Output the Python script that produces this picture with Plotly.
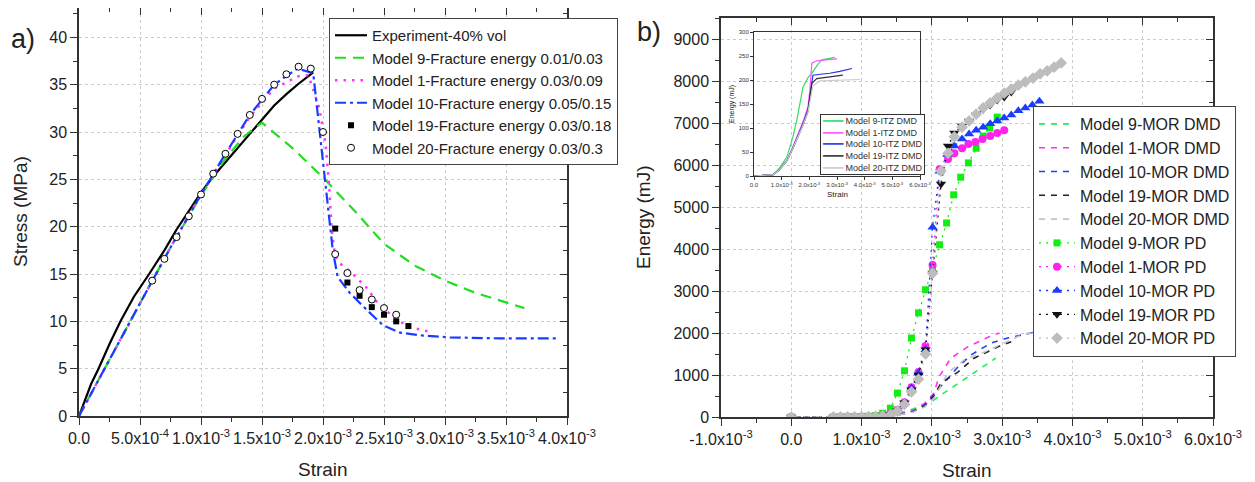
import plotly.graph_objects as go

W, H = 1255, 482          # browser window
OFF = 8                   # default page (body) margin
FW, FH = W - OFF, H - OFF  # figure size
FONT = "Liberation Sans, Arial, sans-serif"
MILLI = 1e-3

# ================= Panel a) : Stress vs Strain =================
# strain values in units of 1e-3
exp_strain = [0, 0.05, 0.1, 0.16, 0.25, 0.34, 0.45, 0.575, 0.7, 0.8, 0.9, 1.0, 1.1, 1.2, 1.3, 1.4, 1.5, 1.6, 1.7, 1.8, 1.92]
exp_stress = [0, 1.8, 3.4, 5.0, 7.6, 10.0, 12.6, 15.0, 17.5, 19.7, 21.7, 23.6, 25.3, 26.8, 28.3, 29.9, 31.4, 32.8, 34.0, 35.1, 36.3]

m9_strain = [0, 0.25, 0.5, 0.75, 1.0, 1.2, 1.35, 1.5, 1.75, 2.0, 2.25, 2.5, 2.75, 3.0, 3.25, 3.5, 3.65]
m9_stress = [0, 6.0, 11.9, 17.8, 23.3, 27.2, 29.5, 31.0, 28.3, 25.2, 21.8, 18.2, 15.9, 14.3, 13.0, 12.0, 11.4]

m1_strain = [0, 0.25, 0.5, 0.75, 1.0, 1.2, 1.4, 1.6, 1.8, 1.88, 1.97, 2.02, 2.05, 2.07, 2.1, 2.15, 2.23, 2.36, 2.45, 2.6, 2.71, 2.87]
m1_stress = [0, 6.0, 11.9, 17.8, 23.4, 27.6, 31.6, 34.6, 35.9, 36.0, 32.5, 28.8, 24.5, 19.8, 16.9, 16.0, 15.2, 13.5, 11.9, 10.2, 9.4, 8.9]

m10_strain = [0, 0.25, 0.5, 0.75, 1.0, 1.2, 1.4, 1.6, 1.79, 1.92, 1.99, 2.04, 2.08, 2.12, 2.22, 2.36, 2.49, 2.63, 2.82, 3.04, 3.45, 3.93]
m10_stress = [0, 6.0, 11.9, 17.8, 23.4, 27.7, 31.8, 35.0, 36.7, 36.2, 28.0, 21.5, 17.5, 14.7, 13.0, 11.2, 9.6, 8.8, 8.5, 8.3, 8.2, 8.2]

m19_strain = [2.1, 2.2, 2.3, 2.4, 2.5, 2.6, 2.7]
m19_stress = [19.8, 14.1, 12.7, 11.5, 10.7, 10.0, 9.5]

m20_strain = [0.6, 0.7, 0.8, 0.9, 1.0, 1.1, 1.2, 1.3, 1.4, 1.5, 1.6, 1.7, 1.8, 1.9, 2.0, 2.1, 2.2, 2.3, 2.4, 2.5, 2.6]
m20_stress = [14.3, 16.6, 18.9, 21.1, 23.4, 25.6, 27.7, 29.8, 31.8, 33.5, 35.0, 36.1, 36.9, 36.7, 30.0, 17.1, 15.1, 13.3, 12.3, 11.4, 10.7]

a_names = ["Experiment-40% vol",
           "Model 9-Fracture energy 0.01/0.03",
           "Model 1-Fracture energy 0.03/0.09",
           "Model 10-Fracture energy 0.05/0.15",
           "Model 19-Fracture energy 0.03/0.18",
           "Model 20-Fracture energy 0.03/0.3"]

a_xtick_vals = [0, 0.5, 1.0, 1.5, 2.0, 2.5, 3.0, 3.5, 4.0]
a_xtick_text = ["0.0", "5.0x10<sup>-4</sup>", "1.0x10<sup>-3</sup>", "1.5x10<sup>-3</sup>",
                "2.0x10<sup>-3</sup>", "2.5x10<sup>-3</sup>", "3.0x10<sup>-3</sup>",
                "3.5x10<sup>-3</sup>", "4.0x10<sup>-3</sup>"]
a_ytick_vals = [0, 5, 10, 15, 20, 25, 30, 35, 40]

# ================= Panel b) : Energy vs Strain =================
low_strain = [0, 0.6, 0.7, 0.8, 0.9, 1.0, 1.1, 1.2, 1.3]

pd9_strain = low_strain + [1.41, 1.51, 1.61, 1.71, 1.81, 1.91, 2.01, 2.11, 2.21, 2.31, 2.41, 2.52, 2.63, 2.73, 2.82, 2.93]
pd9_energy = [0, 2, 3, 5, 8, 12, 18, 35, 90, 210, 570, 1100, 1880, 2480, 3030, 3550, 4100, 4620, 5290, 5710, 6050, 6400, 6690, 6880, 7140]

pd1_strain = low_strain + [1.41, 1.51, 1.61, 1.71, 1.81, 1.91, 2.01, 2.11, 2.23, 2.32, 2.43, 2.52, 2.62, 2.72, 2.83, 2.93, 3.03]
pd1_energy = [0, 1, 2, 3, 5, 8, 12, 18, 30, 80, 170, 350, 710, 1070, 1690, 3620, 5900, 6140, 6280, 6400, 6500, 6550, 6620, 6690, 6760, 6830]

pd10_strain = low_strain + [1.41, 1.51, 1.61, 1.71, 1.81, 1.91, 2.01, 2.11, 2.22, 2.32, 2.43, 2.53, 2.63, 2.73, 2.83, 2.93, 3.03, 3.13, 3.23, 3.33, 3.43, 3.53]
pd10_energy = [0, 1, 2, 3, 5, 8, 12, 18, 30, 70, 160, 340, 690, 1050, 1600, 4520, 5850, 6250, 6450, 6620, 6740, 6830, 6900, 6980, 7050, 7120, 7190, 7290, 7360, 7430, 7520]

pd19_strain = low_strain + [1.41, 1.51, 1.61, 1.71, 1.81, 1.91, 2.01, 2.13, 2.23, 2.32, 2.43, 2.53, 2.63, 2.73, 2.83, 2.93, 3.03, 3.13]
pd19_energy = [0, 1, 2, 3, 5, 8, 12, 18, 28, 60, 150, 340, 650, 1000, 1600, 3430, 5550, 6450, 6760, 6930, 7050, 7190, 7330, 7430, 7550, 7620, 7740]

pd20_strain = low_strain + [1.41, 1.51, 1.61, 1.71, 1.81, 1.91, 2.01, 2.13, 2.23, 2.32, 2.43, 2.53, 2.63, 2.73, 2.83, 2.93, 3.03, 3.13, 3.23, 3.33, 3.44, 3.54, 3.64, 3.74, 3.84]
pd20_energy = [0, 1, 2, 3, 5, 8, 12, 18, 26, 50, 140, 300, 600, 900, 1500, 3420, 5860, 6280, 6670, 6900, 7050, 7210, 7360, 7480, 7600, 7710, 7810, 7900, 7980, 8070, 8170, 8240, 8330, 8430]

dmd9_strain = [0, 0.5, 1.0, 1.3, 1.56, 1.75, 1.99, 2.09, 2.25, 2.41, 2.55, 2.7, 2.91]
dmd9_energy = [0, 0, 5, 20, 95, 200, 360, 480, 660, 830, 1000, 1160, 1400]

dmd1_strain = [0, 0.5, 1.0, 1.3, 1.5, 1.74, 1.9, 2.03, 2.1, 2.27, 2.51, 2.8, 2.96]
dmd1_energy = [0, 0, 5, 15, 50, 160, 330, 570, 950, 1400, 1670, 1900, 2000]

dmd10_strain = [0, 0.5, 1.0, 1.3, 1.5, 1.74, 1.9, 2.03, 2.16, 2.37, 2.56, 2.84, 3.08, 3.46]
dmd10_energy = [0, 0, 5, 15, 45, 140, 290, 540, 810, 1190, 1480, 1760, 1880, 2020]

dmd19_strain = [0, 0.5, 1.0, 1.3, 1.5, 1.74, 1.9, 2.03, 2.13, 2.37, 2.6, 2.94, 3.13]
dmd19_energy = [0, 0, 5, 15, 40, 130, 260, 500, 810, 1070, 1400, 1670, 1790]

dmd20_strain = [0, 0.5, 1.0, 1.3, 1.5, 1.74, 1.9, 2.03, 2.23, 2.46, 2.75, 3.03, 3.27, 3.55, 3.8]
dmd20_energy = [0, 0, 5, 15, 40, 120, 240, 450, 1050, 1360, 1550, 1760, 1950, 2060, 2120]

b_dmd_names = ["Model 9-MOR DMD", "Model 1-MOR DMD", "Model 10-MOR DMD", "Model 19-MOR DMD", "Model 20-MOR DMD"]
b_pd_names = ["Model 9-MOR PD", "Model 1-MOR PD", "Model 10-MOR PD", "Model 19-MOR PD", "Model 20-MOR PD"]

b_xtick_vals = [-1, 0, 1, 2, 3, 4, 5, 6]
b_xtick_text = ["-1.0x10<sup>-3</sup>", "0.0", "1.0x10<sup>-3</sup>", "2.0x10<sup>-3</sup>",
                "3.0x10<sup>-3</sup>", "4.0x10<sup>-3</sup>", "5.0x10<sup>-3</sup>", "6.0x10<sup>-3</sup>"]
b_ytick_vals = [0, 1000, 2000, 3000, 4000, 5000, 6000, 7000, 8000, 9000]

# ================= Inset : ITZ DMD =================
itz9_strain = [0, 0.69, 0.9, 1.19, 1.4, 1.55, 1.77, 1.95, 2.09, 2.3, 2.45, 2.7, 2.92]
itz9_energy = [0, 3, 15, 40, 80, 117, 185, 205, 214, 232, 242, 245, 247]
itz1_strain = [0, 0.69, 0.9, 1.19, 1.4, 1.66, 1.8, 1.95, 2.02, 2.09, 2.27, 2.6, 3.0]
itz1_energy = [0, 3, 12, 33, 60, 96, 118, 144, 180, 235, 240, 242, 244]
itz10_strain = [0, 0.69, 0.9, 1.19, 1.4, 1.66, 1.8, 1.95, 2.05, 2.13, 2.4, 2.74, 3.1, 3.54]
itz10_energy = [0, 3, 12, 32, 58, 92, 113, 138, 175, 210, 212, 214, 218, 224]
itz19_strain = [0, 0.69, 0.9, 1.19, 1.4, 1.66, 1.8, 1.95, 2.05, 2.09, 2.27, 2.7, 3.21]
itz19_energy = [0, 3, 12, 32, 57, 90, 110, 134, 175, 193, 203, 206, 210]
itz20_strain = [0, 0.69, 0.9, 1.19, 1.4, 1.66, 1.8, 1.95, 2.05, 2.13, 2.38, 3.0, 3.83]
itz20_energy = [0, 3, 12, 32, 57, 90, 110, 133, 165, 188, 198, 199, 201]
itz_names = ["Model 9-ITZ DMD", "Model 1-ITZ DMD", "Model 10-ITZ DMD", "Model 19-ITZ DMD", "Model 20-ITZ DMD"]
inset_xtick_vals = [0, 1, 2, 3, 4, 5, 6]
inset_xtick_text = ["0.0", "1.0x10<sup>-3</sup>", "2.0x10<sup>-3</sup>", "3.0x10<sup>-3</sup>",
                    "4.0x10<sup>-3</sup>", "5.0x10<sup>-3</sup>", "6.0x10<sup>-3</sup>"]
inset_ytick_vals = [0, 50, 100, 150, 200, 250, 300]


def s(v):
    return [a * MILLI for a in v]


def px(p):
    """page pixel (x) -> paper fraction"""
    return (p - OFF) / FW


def py(p):
    """page pixel (y, from top) -> paper fraction"""
    return 1 - (p - OFF) / FH


fig = go.Figure()

# ---- panel a traces ----
fig.add_trace(go.Scatter(x=s(exp_strain), y=exp_stress, mode="lines", name=a_names[0],
                         line=dict(color="#000000", width=2.2), xaxis="x", yaxis="y", legend="legend"))
fig.add_trace(go.Scatter(x=s(m9_strain), y=m9_stress, mode="lines", name=a_names[1],
                         line=dict(color="#22dd22", width=2.2, dash="11px,7px"), xaxis="x", yaxis="y", legend="legend"))
fig.add_trace(go.Scatter(x=s(m1_strain), y=m1_stress, mode="lines", name=a_names[2],
                         line=dict(color="#ff33ff", width=2.5, dash="2.5px,6px"), xaxis="x", yaxis="y", legend="legend"))
fig.add_trace(go.Scatter(x=s(m10_strain), y=m10_stress, mode="lines", name=a_names[3],
                         line=dict(color="#1a3cff", width=2.2, dash="11px,4px,3px,4px"), xaxis="x", yaxis="y", legend="legend"))
fig.add_trace(go.Scatter(x=s(m19_strain), y=m19_stress, mode="markers", name=a_names[4],
                         marker=dict(symbol="square", size=6, color="#000000"), xaxis="x", yaxis="y", legend="legend"))
fig.add_trace(go.Scatter(x=s(m20_strain), y=m20_stress, mode="markers", name=a_names[5],
                         marker=dict(symbol="circle", size=7, color="#ffffff", line=dict(color="#000000", width=1)),
                         xaxis="x", yaxis="y", legend="legend"))

# ---- panel b traces ----
dmd_colors = ["#22ee55", "#ff33ee", "#2040ee", "#222222", "#c4c4c4"]
dmd_data = [(dmd9_strain, dmd9_energy), (dmd1_strain, dmd1_energy), (dmd10_strain, dmd10_energy),
            (dmd19_strain, dmd19_energy), (dmd20_strain, dmd20_energy)]
for (xs, ys), c, n in zip(dmd_data, dmd_colors, b_dmd_names):
    fig.add_trace(go.Scatter(x=s(xs), y=ys, mode="lines", name=n,
                             line=dict(color=c, width=1.6, dash="6px,6px"),
                             xaxis="x2", yaxis="y2", legend="legend2"))

pd_colors = ["#11ee11", "#ff22ee", "#1a3cff", "#111111", "#bdbdbd"]
pd_symbols = ["square", "circle", "triangle-up", "triangle-down", "diamond"]
pd_sizes = [7, 8, 9, 9, 9]
pd_data = [(pd9_strain, pd9_energy), (pd1_strain, pd1_energy), (pd10_strain, pd10_energy),
           (pd19_strain, pd19_energy), (pd20_strain, pd20_energy)]
for (xs, ys), c, sym, sz, n in zip(pd_data, pd_colors, pd_symbols, pd_sizes, b_pd_names):
    fig.add_trace(go.Scatter(x=s(xs), y=ys, mode="lines+markers", name=n,
                             line=dict(color=c, width=1.3, dash="2px,5px"),
                             marker=dict(symbol=sym, size=sz, color=c),
                             xaxis="x2", yaxis="y2", legend="legend2"))

# ---- inset traces ----
itz_colors = ["#33dd66", "#ff55ff", "#2233ee", "#333333", "#cccccc"]
itz_data = [(itz9_strain, itz9_energy), (itz1_strain, itz1_energy), (itz10_strain, itz10_energy),
            (itz19_strain, itz19_energy), (itz20_strain, itz20_energy)]
for (xs, ys), c, n in zip(itz_data, itz_colors, itz_names):
    fig.add_trace(go.Scatter(x=s(xs), y=ys, mode="lines", name=n, showlegend=False,
                             line=dict(color=c, width=1.2), xaxis="x3", yaxis="y3"))

# dummy traces for mirrored (inward tick) axes
for xa, ya in [("x4", "y"), ("x", "y4"), ("x5", "y2"), ("x2", "y5")]:
    fig.add_trace(go.Scatter(x=[None], y=[None], xaxis=xa, yaxis=ya, showlegend=False, hoverinfo="skip"))

AX = "#333333"
TICKFONT = dict(family=FONT, size=16, color="#222222")
grid = dict(showgrid=True, gridcolor="#cccccc", griddash="dot", gridwidth=1)


def main_axis(rng, tickvals, ticktext, minorvals, **kw):
    d = dict(range=rng, tickmode="array", tickvals=tickvals, ticktext=ticktext,
             showline=True, linecolor=AX, linewidth=1.5, ticks="outside", ticklen=7,
             tickwidth=1.3, tickcolor=AX, tickfont=TICKFONT, zeroline=False,
             automargin=False, tickangle=0,
             minor=dict(tickmode="array", tickvals=minorvals, ticks="outside", ticklen=4,
                        tickwidth=1.3, tickcolor=AX, showgrid=False))
    d.update(grid)
    d.update(kw)
    return d


def mirror_axis(rng, tickvals, minorvals, **kw):
    d = dict(range=rng, tickmode="array", tickvals=tickvals, showticklabels=False,
             showline=True, linecolor=AX, linewidth=1.5, ticks="inside", ticklen=7,
             tickwidth=1.3, tickcolor=AX, showgrid=False, zeroline=False, automargin=False,
             minor=dict(tickmode="array", tickvals=minorvals, ticks="inside", ticklen=4,
                        tickwidth=1.3, tickcolor=AX, showgrid=False))
    d.update(kw)
    return d


a_xrange = [0, 4.0 * MILLI]
a_yrange = [0, 43.1]
a_xt = s(a_xtick_vals)
a_xminor = s([0.25 + 0.5 * i for i in range(8)])
a_yminor = [2.5 + 5 * i for i in range(9)]

b_xrange = [-1.0 * MILLI, 6.0 * MILLI]
b_yrange = [0, 9500]
b_xt = s(b_xtick_vals)
b_xminor = s([-0.5 + i for i in range(7)])
b_yminor = [500 + 1000 * i for i in range(10)]

a_xdom = [px(79), px(567)]
a_ydom = [py(416), py(8)]
b_xdom = [px(721), px(1213)]
b_ydom = [py(417), py(18)]

fig.update_layout(
    width=FW, height=FH,
    margin=dict(l=0, r=0, t=0, b=0, autoexpand=False),
    paper_bgcolor="white", plot_bgcolor="rgba(0,0,0,0)",
    font=dict(family=FONT, color="#222222"),
    showlegend=True,
    xaxis=main_axis(a_xrange, a_xt, a_xtick_text, a_xminor, domain=a_xdom, anchor="y"),
    yaxis=main_axis(a_yrange, a_ytick_vals, [str(v) for v in a_ytick_vals], a_yminor, domain=a_ydom, anchor="x"),
    xaxis4=mirror_axis(a_xrange, a_xt, a_xminor, overlaying="x", side="top", anchor="y"),
    yaxis4=mirror_axis(a_yrange, a_ytick_vals, a_yminor, overlaying="y", side="right", anchor="x"),
    xaxis2=main_axis(b_xrange, b_xt, b_xtick_text, b_xminor, domain=b_xdom, anchor="y2"),
    yaxis2=main_axis(b_yrange, b_ytick_vals, [str(v) for v in b_ytick_vals], b_yminor, domain=b_ydom, anchor="x2"),
    xaxis5=mirror_axis(b_xrange, b_xt, b_xminor, overlaying="x2", side="top", anchor="y2"),
    yaxis5=mirror_axis(b_yrange, b_ytick_vals, b_yminor, overlaying="y2", side="right", anchor="x2"),
    xaxis3=dict(domain=[px(754), px(920)], anchor="y3", range=[0, 6.0 * MILLI], tickmode="array",
                tickvals=s(inset_xtick_vals), ticktext=inset_xtick_text, tickangle=0, automargin=False,
                tickfont=dict(family=FONT, size=6, color="#333"), showline=True, mirror=True,
                linecolor=AX, linewidth=1, ticks="outside", ticklen=3, tickcolor=AX,
                showgrid=False, zeroline=False),
    yaxis3=dict(domain=[py(176), py(32)], anchor="x3", range=[0, 300], tickmode="array",
                tickvals=inset_ytick_vals, tickfont=dict(family=FONT, size=6, color="#333"), automargin=False,
                showline=True, mirror=True, linecolor=AX, linewidth=1, ticks="outside", ticklen=3,
                tickcolor=AX, showgrid=False, zeroline=False),
    legend=dict(x=px(329), y=py(18), xanchor="left", yanchor="top", bgcolor="white",
                bordercolor="#444", borderwidth=1, font=dict(family=FONT, size=15, color="#222"),
                itemwidth=32, tracegroupgap=0),
    legend2=dict(x=px(1033), y=py(106), xanchor="left", yanchor="top", bgcolor="white",
                 bordercolor="#444", borderwidth=1, font=dict(family=FONT, size=16, color="#222"),
                 itemwidth=36, tracegroupgap=0),
)

inset_legend_text = "<br>".join(
    f"<span style='color:{c}'>━━━━</span> {n}" for c, n in zip(itz_colors, itz_names))

annotations = [
    dict(text="Strain", x=px(323), y=py(469), font=dict(size=19)),
    dict(text="Stress (MPa)", x=px(20), y=py(212), textangle=-90, font=dict(size=19)),
    dict(text="Strain", x=px(967), y=py(470), font=dict(size=19)),
    dict(text="Energy (mJ)", x=px(643), y=py(217), textangle=-90, font=dict(size=19)),
    dict(text="a)", x=px(23), y=py(39), font=dict(size=27)),
    dict(text="b)", x=px(649), y=py(32), font=dict(size=27)),
    dict(text="Strain", x=px(837), y=py(195), font=dict(size=8)),
    dict(text="Energy (mJ)", x=px(732), y=py(104), textangle=-90, font=dict(size=7)),
    dict(text=inset_legend_text, x=px(820), y=py(114), xanchor="left", yanchor="top", align="left",
         font=dict(size=9, color="#333"), bgcolor="white", bordercolor="#333", borderwidth=1, borderpad=1),
]
for a in annotations:
    a.setdefault("xref", "paper")
    a.setdefault("yref", "paper")
    a.setdefault("showarrow", False)
    a.setdefault("xanchor", "center")
    a.setdefault("yanchor", "middle")
    f = a.get("font", {})
    f.setdefault("family", FONT)
    f.setdefault("color", "#222222")
    a["font"] = f
fig.update_layout(annotations=annotations)

fig.write_html("out.html")
